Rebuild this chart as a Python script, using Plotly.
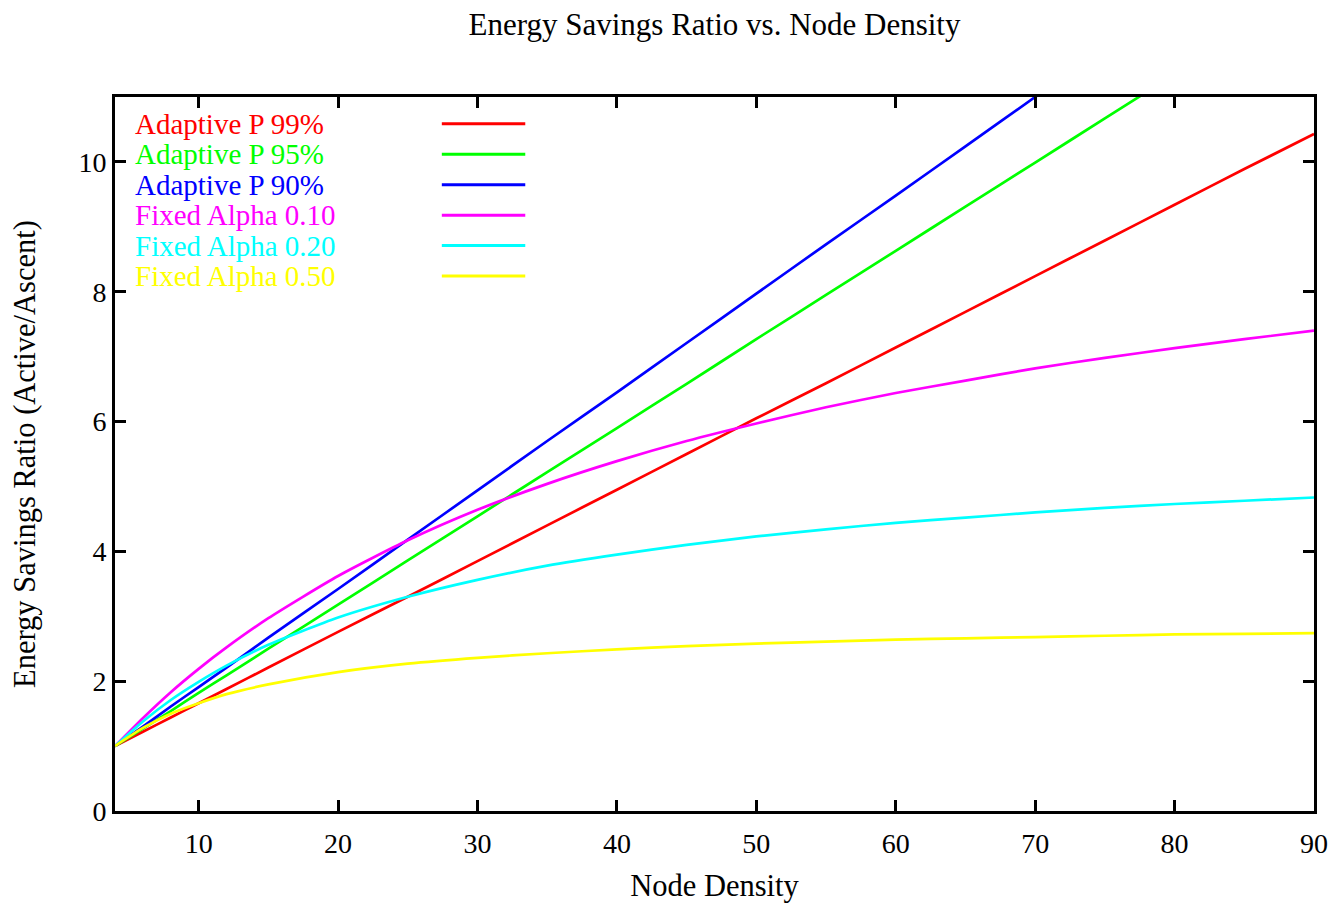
import plotly.graph_objects as go

# ---- data ----
node_density = [4, 6, 8, 10, 12, 15, 20, 25, 30, 35, 40, 45, 50, 55, 60, 65, 70, 75, 80, 85, 90]

adaptive_p99 = [1.00, 1.22, 1.44, 1.66, 1.88, 2.21, 2.76, 3.30, 3.85, 4.40, 4.95, 5.50, 6.05,
                6.59, 7.14, 7.69, 8.24, 8.79, 9.34, 9.89, 10.43]
adaptive_p95 = [1.00, 1.27, 1.54, 1.82, 2.09, 2.50, 3.18, 3.86, 4.54, 5.22, 5.90, 6.58, 7.27,
                7.95, 8.63, 9.31, 9.99, 10.67, 11.35, 12.03, 12.71]
adaptive_p90 = [1.00, 1.30, 1.61, 1.91, 2.21, 2.67, 3.42, 4.18, 4.94, 5.70, 6.45, 7.21, 7.97,
                8.73, 9.48, 10.24, 11.00, 11.76, 12.52, 13.27, 14.03]
fixed_a010 = [1.00, 1.43, 1.83, 2.19, 2.52, 2.97, 3.62, 4.17, 4.64, 5.04, 5.39, 5.70, 5.97,
              6.22, 6.44, 6.63, 6.82, 6.98, 7.13, 7.27, 7.40]
fixed_a020 = [1.00, 1.38, 1.71, 1.99, 2.24, 2.56, 2.98, 3.30, 3.56, 3.78, 3.95, 4.10, 4.23,
              4.34, 4.44, 4.52, 4.60, 4.67, 4.73, 4.78, 4.83]
fixed_a050 = [1.00, 1.28, 1.50, 1.66, 1.80, 1.95, 2.14, 2.27, 2.36, 2.43, 2.49, 2.54, 2.58,
              2.61, 2.64, 2.66, 2.68, 2.70, 2.72, 2.73, 2.74]

series_names = ["Adaptive P 99%", "Adaptive P 95%", "Adaptive P 90%",
                "Fixed Alpha 0.10", "Fixed Alpha 0.20", "Fixed Alpha 0.50"]
series_values = [adaptive_p99, adaptive_p95, adaptive_p90, fixed_a010, fixed_a020, fixed_a050]
series_colors = ["#ff0000", "#00ff00", "#0000ff", "#ff00ff", "#00ffff", "#ffff00"]

x_ticks = [10, 20, 30, 40, 50, 60, 70, 80, 90]
y_ticks = [0, 2, 4, 6, 8, 10]

FONT = "Liberation Serif, Times New Roman, serif"

# page has an 8px body margin; size the figure so the plot box lands where the reference has it
OFF = 8
W, H = 1340 - OFF, 910 - OFF
L, R, T, B = 115 - OFF, 18, 97 - OFF, 95
pw, ph = W - L - R, H - T - B

fig = go.Figure()
for name, vals, col in zip(series_names, series_values, series_colors):
    fig.add_trace(go.Scatter(x=node_density, y=vals, mode="lines", name=name,
                             line=dict(color=col, width=2.7, shape="spline", smoothing=0.6),
                             showlegend=False))

# gnuplot-style key: coloured text, sample line on the right (page-pixel rows)
key_top, key_step = 124, 30.6
for i, (name, col) in enumerate(zip(series_names, series_colors)):
    py = key_top + i * key_step
    yp = (910 - B - py) / ph
    fig.add_annotation(x=(133 - 115) / pw, y=yp, xref="paper", yref="paper",
                       text=name, showarrow=False, xanchor="left", yanchor="middle",
                       font=dict(family=FONT, size=29, color=col))
    fig.add_shape(type="line", xref="paper", yref="paper",
                  x0=(444 - 115) / pw, x1=(528 - 115) / pw, y0=yp, y1=yp,
                  line=dict(color=col, width=3))

axis_common = dict(showline=True, linecolor="black", linewidth=3, mirror="ticks",
                   ticks="inside", ticklen=11, tickwidth=3, tickcolor="black",
                   showgrid=False, zeroline=False,
                   tickfont=dict(family=FONT, size=28, color="black"))

fig.update_layout(
    width=W, height=H,
    margin=dict(l=L, r=R, t=T, b=B),
    paper_bgcolor="white", plot_bgcolor="white",
    title=dict(text="Energy Savings Ratio vs. Node Density", x=0.5, xref="paper",
               y=1 - 16 / H, yref="container", xanchor="center", yanchor="middle",
               font=dict(family=FONT, size=31, color="black")),
    xaxis=dict(range=[4, 90], tickvals=x_ticks, ticklabelstandoff=5,
               title=dict(text="Node Density", standoff=18,
                          font=dict(family=FONT, size=30.5, color="black")),
               **axis_common),
    yaxis=dict(range=[0, 11], tickvals=y_ticks, ticklabelstandoff=0,
               title=dict(text="Energy Savings Ratio (Active/Ascent)", standoff=37,
                          font=dict(family=FONT, size=30.5, color="black")),
               **axis_common),
)

fig.write_html("out.html")
